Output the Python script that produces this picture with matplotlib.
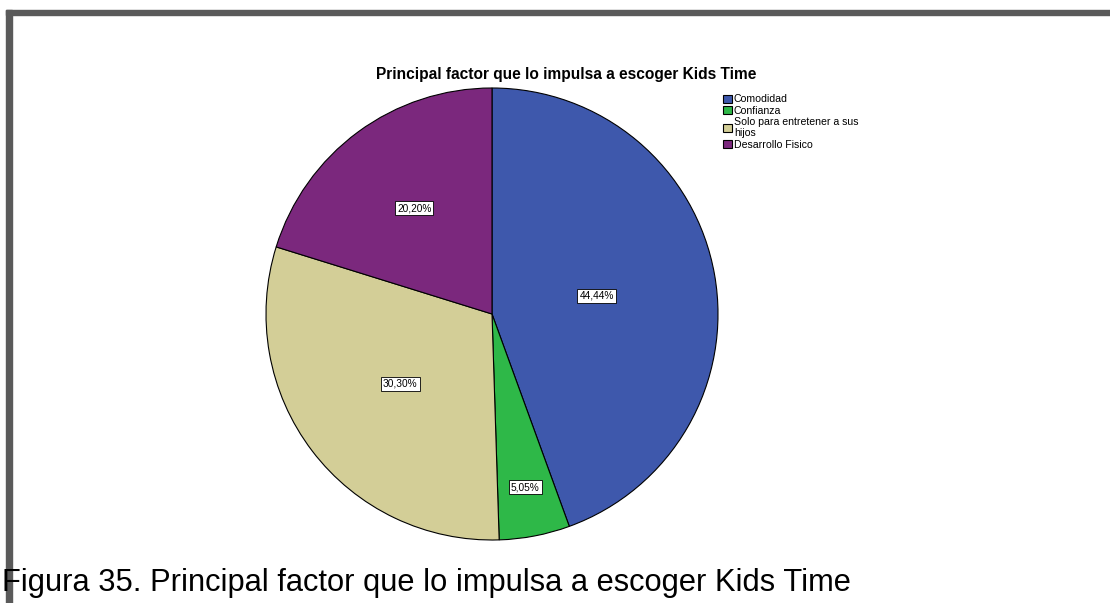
import numpy as np
import matplotlib
matplotlib.use("Agg")
import matplotlib.pyplot as plt
from matplotlib.patches import Rectangle

plt.rcParams['font.family'] = ['Liberation Sans', 'DejaVu Sans']

categorias = ['Comodidad', 'Confianza', 'Solo para entretener a sus\nhijos', 'Desarrollo Fisico']
porcentajes = [44.44, 5.05, 30.30, 20.20]
etiquetas = ['44,44%', '5,05%', '30,30%', '20,20%']
colores = ['#3E58AC', '#2EB848', '#D3CE97', '#7B287D']
# distancia relativa de cada etiqueta al centro
dist_etiqueta = [0.47, 0.78, 0.51, 0.58]

fig = plt.figure(figsize=(11.1, 6.03), dpi=100)

# marco gris superior e izquierdo
fig.patches.append(Rectangle((6 / 1110, 588 / 603), 1104 / 1110, 5 / 603,
                             transform=fig.transFigure, color='#5a5a5a', zorder=0))
fig.patches.append(Rectangle((6 / 1110, 0), 6 / 1110, 593 / 603,
                             transform=fig.transFigure, color='#5a5a5a', zorder=0))

ax = fig.add_axes([266 / 1110, 63 / 603, 452 / 1110, 452 / 603])
wedges, _ = ax.pie(porcentajes, colors=colores, startangle=90, counterclock=False,
                   wedgeprops=dict(edgecolor='black', linewidth=0.8))
ax.set_xlim(-1, 1)
ax.set_ylim(-1, 1)
ax.set_aspect('equal')

for w, txt, d in zip(wedges, etiquetas, dist_etiqueta):
    ang = np.deg2rad((w.theta1 + w.theta2) / 2)
    ax.text(d * np.cos(ang), d * np.sin(ang), txt, ha='center', va='center', fontsize=7.3,
            bbox=dict(boxstyle='square,pad=0.2', fc='white', ec='black', lw=0.6))

fig.text(566 / 1110, 1 - 75 / 603, 'Principal factor que lo impulsa a escoger Kids Time',
         ha='center', va='center', fontsize=11.2, fontweight='bold')

ax.legend(wedges, categorias, loc='upper left', bbox_to_anchor=(718 / 1110, 1 - 89 / 603),
          bbox_transform=fig.transFigure, frameon=False, fontsize=7.6,
          handlelength=0.8, handleheight=0.8, handletextpad=0.2, labelspacing=0.12,
          borderpad=0)

fig.text(2 / 1110, 1 - 583 / 603, 'Figura 35. Principal factor que lo impulsa a escoger Kids Time',
         ha='left', va='center', fontsize=22.2)

fig.savefig('out.png', dpi=100)
